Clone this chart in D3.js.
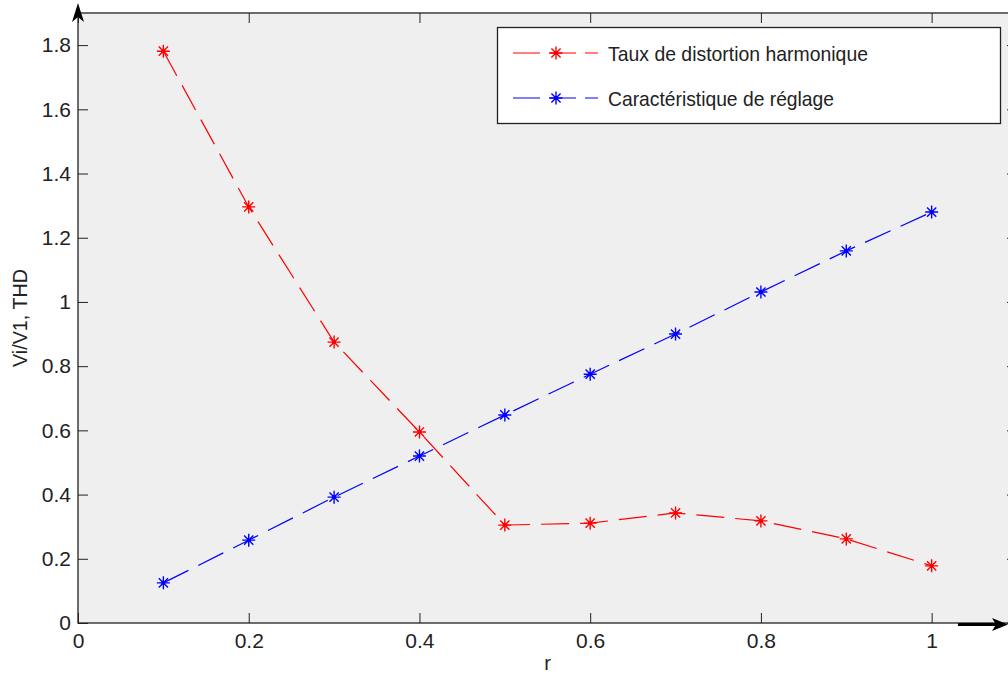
<!DOCTYPE html>
<html>
<head>
<meta charset="utf-8">
<script src="https://cdn.jsdelivr.net/npm/d3@7.9.0/dist/d3.min.js"></script>
<style>
  body { margin: 0; background: #fff; }
  svg { display: block; }
  text { font-family: "Liberation Sans", Arial, sans-serif; fill: #222; }
</style>
</head>
<body>
<svg id="chart" width="1008" height="675"></svg>
<script>
// data
const rValues = [0.1, 0.2, 0.3, 0.4, 0.5, 0.6, 0.7, 0.8, 0.9, 1.0];
const thd = [1.781, 1.296, 0.875, 0.595, 0.305, 0.311, 0.343, 0.318, 0.262, 0.178];
const reglage = [0.125, 0.258, 0.392, 0.520, 0.648, 0.775, 0.900, 1.031, 1.159, 1.280];
const xTicks = [0, 0.2, 0.4, 0.6, 0.8, 1];
const yTicks = [0, 0.2, 0.4, 0.6, 0.8, 1, 1.2, 1.4, 1.6, 1.8];
const seriesNames = ['Taux de distortion harmonique', 'Caractéristique de réglage'];
const seriesColors = ['#ff0000', '#0000ff'];

const svg = d3.select('#chart');
const plotLeft = 78, plotRight = 1017, plotTop = 13, plotBottom = 623;

const x = d3.scaleLinear().domain([0, 1.1]).range([plotLeft, plotRight]);
const y = d3.scaleLinear().domain([0, 1.9]).range([plotBottom, plotTop]);

// axes background
svg.append('rect').attr('x', plotLeft).attr('y', plotTop)
  .attr('width', plotRight - plotLeft).attr('height', plotBottom - plotTop)
  .attr('fill', '#efefef');

// ticks (inside) on all four sides
const tickLen = 10;
const fmt = d => d === 0 ? '0' : (Number.isInteger(d) ? String(d) : d.toFixed(1));

svg.append('g').attr('transform', `translate(0,${plotBottom})`)
  .call(d3.axisBottom(x).tickValues(xTicks).tickSizeInner(-tickLen).tickSizeOuter(0).tickPadding(10).tickFormat(fmt))
  .call(g => g.select('.domain').remove());
svg.append('g').attr('transform', `translate(0,${plotTop})`)
  .call(d3.axisTop(x).tickValues(xTicks).tickSizeInner(-tickLen).tickSizeOuter(0).tickFormat(''))
  .call(g => g.select('.domain').remove());
svg.append('g').attr('transform', `translate(${plotLeft},0)`)
  .call(d3.axisLeft(y).tickValues(yTicks).tickSizeInner(-tickLen).tickSizeOuter(0).tickPadding(7).tickFormat(fmt))
  .call(g => g.select('.domain').remove());
svg.append('g').attr('transform', `translate(${plotRight},0)`)
  .call(d3.axisRight(y).tickValues(yTicks).tickSizeInner(-tickLen).tickSizeOuter(0).tickFormat(''))
  .call(g => g.select('.domain').remove());

svg.selectAll('.tick line').attr('stroke', '#222');
svg.selectAll('.tick text').attr('font-size', 21).attr('fill', '#222')
  .style('font-family', '"Liberation Sans", Arial, sans-serif');

// box
svg.append('rect').attr('x', plotLeft).attr('y', plotTop)
  .attr('width', plotRight - plotLeft).attr('height', plotBottom - plotTop)
  .attr('fill', 'none').attr('stroke', '#222').attr('stroke-width', 1.3);

// series
const series = [thd, reglage];
const line = d3.line().x((d, i) => x(rValues[i])).y(d => y(d));
const star = 'M0,-6.5L0,6.5M-6.5,0L6.5,0M-4.6,-4.6L4.6,4.6M-4.6,4.6L4.6,-4.6';

series.forEach((vals, s) => {
  svg.append('path').datum(vals).attr('d', line)
    .attr('fill', 'none').attr('stroke', seriesColors[s])
    .attr('stroke-width', 1.2).attr('stroke-dasharray', '28,11');
  svg.append('g').selectAll('path').data(vals).join('path')
    .attr('transform', (d, i) => `translate(${x(rValues[i])},${y(d)})`)
    .attr('d', star).attr('stroke', seriesColors[s]).attr('stroke-width', 1.4).attr('fill', 'none');
  svg.append('g').selectAll('circle').data(vals).join('circle')
    .attr('cx', (d, i) => x(rValues[i])).attr('cy', d => y(d)).attr('r', 2)
    .attr('fill', seriesColors[s]);
});

// legend
const lg = svg.append('g');
lg.append('rect').attr('x', 497.5).attr('y', 27.5).attr('width', 503).attr('height', 96)
  .attr('fill', '#fff').attr('stroke', '#222').attr('stroke-width', 1.3);
seriesNames.forEach((name, s) => {
  const ly = 53 + s * 45;
  lg.append('line').attr('x1', 513).attr('x2', 598).attr('y1', ly).attr('y2', ly)
    .attr('stroke', seriesColors[s]).attr('stroke-width', 1.2).attr('stroke-dasharray', '27,9');
  lg.append('path').attr('transform', `translate(556,${ly})`).attr('d', star)
    .attr('stroke', seriesColors[s]).attr('stroke-width', 1.4).attr('fill', 'none');
  lg.append('circle').attr('cx', 556).attr('cy', ly).attr('r', 2).attr('fill', seriesColors[s]);
  lg.append('text').attr('x', 608).attr('y', ly + 8).attr('font-size', 21)
    .attr('textLength', s === 0 ? 260 : 226).attr('lengthAdjust', 'spacingAndGlyphs')
    .text(name);
});

// axis labels
svg.append('text').attr('x', (plotLeft + plotRight) / 2).attr('y', 670).attr('text-anchor', 'middle')
  .attr('font-size', 20).text('r');
svg.append('text').attr('transform', `translate(27,${(plotTop + plotBottom) / 2}) rotate(-90)`)
  .attr('text-anchor', 'middle').attr('font-size', 20)
  .attr('textLength', 98).attr('lengthAdjust', 'spacingAndGlyphs').text('Vi/V1, THD');

// arrows on axes
svg.append('path').attr('d', `M${plotLeft},3L${plotLeft + 6},22L${plotLeft},17L${plotLeft - 6},22Z`).attr('fill', '#000');
svg.append('line').attr('x1', 958).attr('x2', 1000).attr('y1', 624.5).attr('y2', 624.5)
  .attr('stroke', '#000').attr('stroke-width', 3);
svg.append('path').attr('d', 'M1008,624.5L992,618L996,624.5L992,631Z').attr('fill', '#000');
</script>
</body>
</html>
